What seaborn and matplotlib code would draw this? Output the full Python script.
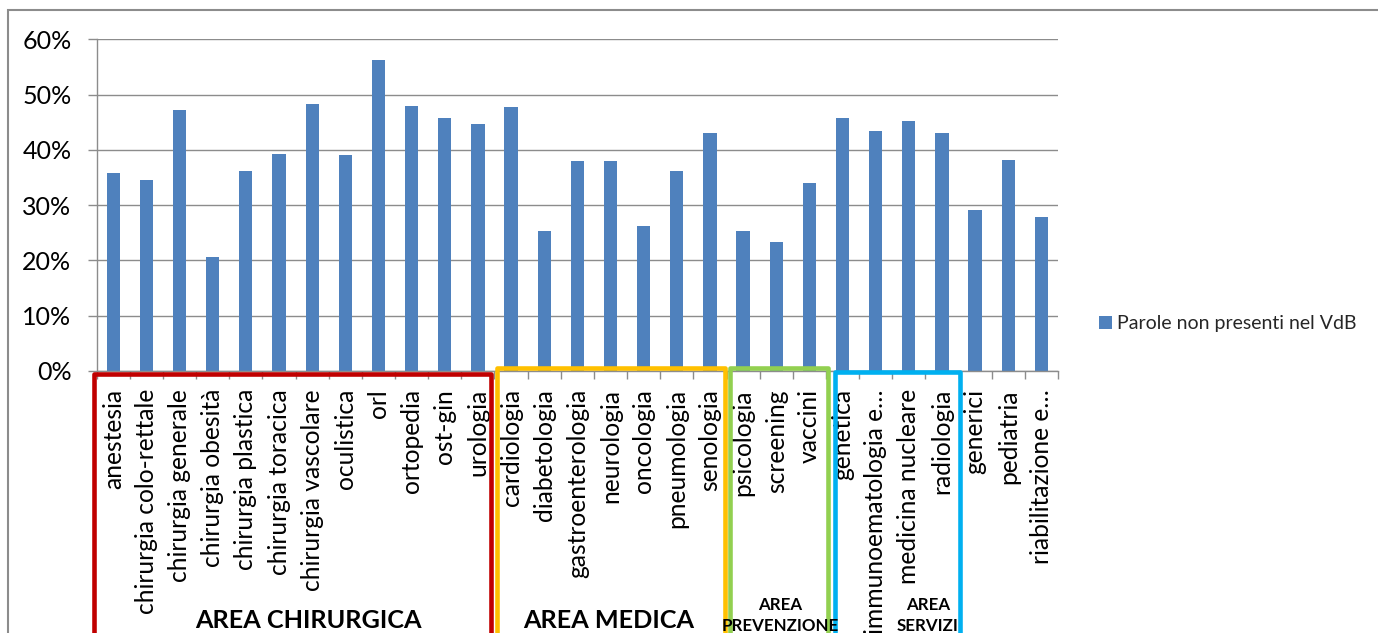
import matplotlib
matplotlib.use("Agg")
import matplotlib.pyplot as plt
import matplotlib.transforms as mtransforms
from matplotlib.patches import Rectangle
from matplotlib.ticker import PercentFormatter, FixedLocator
import seaborn as sns

categories = [
    "anestesia", "chirurgia colo-rettale", "chirurgia generale", "chirurgia obesità",
    "chirurgia plastica", "chirurgia toracica", "chirurgia vascolare", "oculistica",
    "orl", "ortopedia", "ost-gin", "urologia",
    "cardiologia", "diabetologia", "gastroenterologia", "neurologia", "oncologia",
    "pneumologia", "senologia",
    "psicologia", "screening", "vaccini",
    "genetica", "immunoematologia e…", "medicina nucleare", "radiologia",
    "generici", "pediatria", "riabilitazione e…",
]
values = [
    0.358, 0.346, 0.472, 0.207, 0.362, 0.392, 0.483, 0.391, 0.562, 0.479, 0.457, 0.447,
    0.478, 0.254, 0.379, 0.379, 0.262, 0.361, 0.431,
    0.253, 0.234, 0.340,
    0.457, 0.434, 0.453, 0.431,
    0.291, 0.381, 0.279,
]
series_name = "Parole non presenti nel VdB"

# area groups: label, first and last category index
group_labels = ["AREA CHIRURGICA", "AREA MEDICA", "AREA\nPREVENZIONE", "AREA\nSERVIZI"]
group_first = [0, 12, 19, 22]
group_last = [11, 18, 21, 25]
group_colors = ["#C00000", "#FFC000", "#92D050", "#00B0F0"]

sns.set_style("white")
plt.rcParams["font.family"] = ["Lato", "DejaVu Sans"]

W, H = 1378, 633
fig = plt.figure(figsize=(W / 100, H / 100), dpi=100)
ax = fig.add_axes([96.7 / W, 1 - 371 / H, (1058 - 96.7) / W, (371 - 39.3) / H])

sns.barplot(x=categories, y=values, color="#4F81BD", saturation=1, width=0.40,
            ax=ax, label=series_name, linewidth=0)

grid_c = "#8C8C8C"
ax.set_xlim(-0.5, len(categories) - 0.5)
ax.set_ylim(0, 0.6)
ax.set_yticks([0, 0.1, 0.2, 0.3, 0.4, 0.5, 0.6])
ax.yaxis.set_major_formatter(PercentFormatter(1.0, decimals=0))
ax.yaxis.grid(True, color=grid_c, linewidth=1.0)
ax.set_axisbelow(True)
for side in ["top", "right"]:
    ax.spines[side].set_visible(False)
for side in ["left", "bottom"]:
    ax.spines[side].set_color(grid_c)
    ax.spines[side].set_linewidth(1.0)
ax.set_xlabel("")
ax.set_ylabel("")

ax.tick_params(axis="y", which="major", length=6.2, width=1.0, color=grid_c,
               labelsize=18, pad=12, labelcolor="black", left=True, direction="out")
ax.tick_params(axis="x", which="major", length=0, pad=13, labelsize=17.7, labelcolor="black")
ax.set_xticks(range(len(categories)))
ax.set_xticklabels(categories, rotation=90, ha="center", va="top")
ax.xaxis.set_minor_locator(FixedLocator([i + 0.5 for i in range(-1, len(categories))]))
ax.tick_params(axis="x", which="minor", length=5.5, width=1.0, color=grid_c,
               bottom=True, direction="out")

# legend to the right of the plot
ax.legend(loc="center left", bbox_to_anchor=(1099 / W, 1 - 324 / H),
          bbox_transform=fig.transFigure, frameon=False, fontsize=14,
          handlelength=0.65, handleheight=0.65, handletextpad=0.28,
          borderpad=0, borderaxespad=0)

# outer chart frame
fig.add_artist(Rectangle((8 / W, -0.2), 1.5, 1 - 10 / H + 0.2,
                         transform=fig.transFigure, fill=False,
                         edgecolor="#8C8C8C", linewidth=1.5))

# area boxes around the category labels
trans = mtransforms.blended_transform_factory(ax.transData, fig.transFigure)
box_pad_left = [0.07, -0.07, -0.12, -0.26]
box_pad_right = [-0.11, -0.06, 0.05, 0.04]
box_top_px = [374.4, 368, 368, 372]
for i in range(len(group_labels)):
    x0 = group_first[i] - 0.5 - box_pad_left[i]
    x1 = group_last[i] + 0.5 + box_pad_right[i]
    top = 1 - box_top_px[i] / H
    fig.add_artist(Rectangle((x0, -0.3), x1 - x0, top + 0.3, transform=trans,
                             fill=False, edgecolor=group_colors[i], linewidth=3.3,
                             joinstyle="round"))

# area titles
title_x = [5.90, 14.95, 20.11, 24.58]
for i, lab in enumerate(group_labels):
    lines = lab.split("\n")
    if len(lines) == 1:
        fig.text(title_x[i], 1 - 628.5 / H, lines[0], transform=trans, ha="center",
                 va="baseline", fontsize=18.2, fontweight="bold", color="black")
    else:
        fig.text(title_x[i], 1 - 610 / H, lines[0], transform=trans, ha="center",
                 va="baseline", fontsize=12.2, fontweight="bold", color="black")
        fig.text(title_x[i], 1 - 631 / H, lines[1], transform=trans, ha="center",
                 va="baseline", fontsize=12.2, fontweight="bold", color="black")

fig.savefig("out.png", dpi=100, facecolor="white")
